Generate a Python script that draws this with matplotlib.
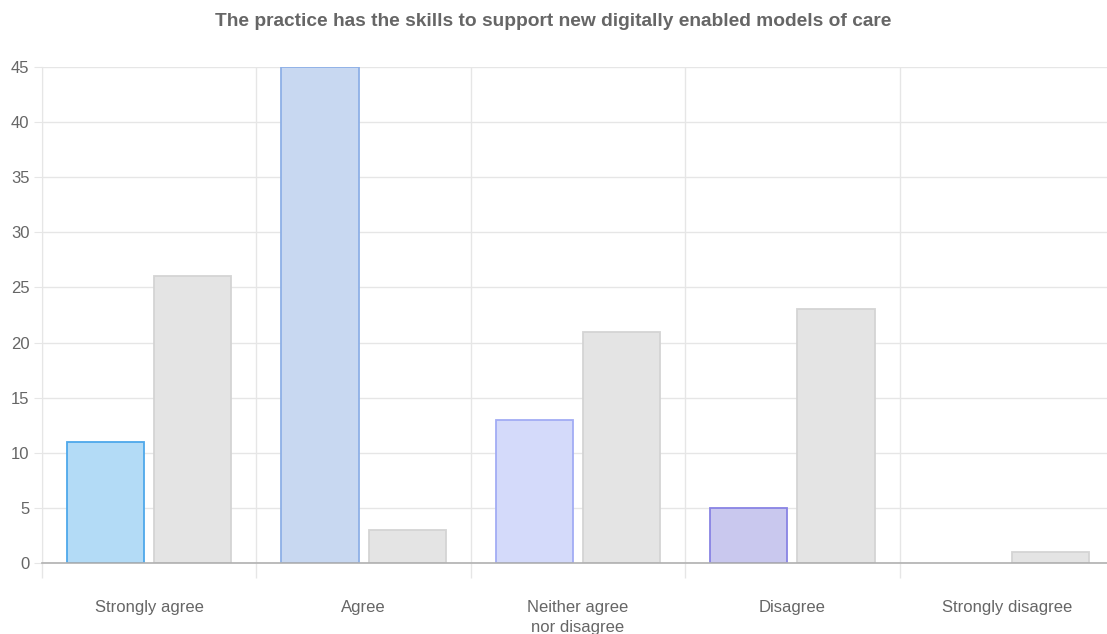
import matplotlib.pyplot as plt
import numpy as np

categories = ["Strongly agree", "Agree", "Neither agree\nnor disagree", "Disagree", "Strongly disagree"]
practice = [11, 45, 13, 5, 0]
comparison = [26, 3, 21, 23, 1]

# each practice bar gets its own shade
practice_fill = ["#b3dbf6", "#c8d8f1", "#d4dafa", "#c9c8ee", "#c9c8ee"]
practice_edge = ["#4ea8ea", "#8eb0e6", "#a2acf4", "#8883e4", "#8883e4"]
grey_fill = "#e4e4e4"
grey_edge = "#d4d4d4"
text_col = "#666666"
grid_col = "#e6e6e6"

plt.rcParams['font.family'] = ['Liberation Sans', 'DejaVu Sans']

fig = plt.figure(figsize=(11.07, 6.34), dpi=100)
ax = fig.add_axes([42 / 1107, 1 - 563 / 634, 1072 / 1107, (563 - 67) / 634])

x = np.arange(len(categories))
w = 0.36
off = 0.203
lw = [1.3 if v > 0 else 0 for v in practice]
ax.bar(x - off, practice, w, color=practice_fill, edgecolor=practice_edge, linewidth=lw, zorder=3)
ax.bar(x + off, comparison, w, color=grey_fill, edgecolor=grey_edge, linewidth=1.3, zorder=3)

ax.set_xlim(-0.5, len(categories) - 0.5)
ax.set_ylim(0, 45)
ax.set_yticks(np.arange(0, 46, 5))
ax.set_xticks(x)
ax.set_xticklabels(categories, linespacing=1.45)
ax.set_xticks(np.arange(-0.5, len(categories), 1), minor=True)

ax.grid(axis='y', color=grid_col, linewidth=1, zorder=0)
ax.grid(axis='x', which='minor', color=grid_col, linewidth=1, zorder=0)
ax.tick_params(axis='x', which='major', length=0, pad=26.5, labelsize=12, labelcolor=text_col)
ax.tick_params(axis='x', which='minor', length=11, color=grid_col, width=1)
ax.tick_params(axis='y', length=6, color=grid_col, pad=3, labelsize=12, labelcolor=text_col)

for s in ['top', 'right']:
    ax.spines[s].set_visible(False)
ax.spines['left'].set_color(grid_col)
ax.spines['bottom'].set_color("#b0b0b0")
ax.spines['bottom'].set_linewidth(1.2)
ax.spines['bottom'].set_zorder(4)

fig.text(0.5, 1 - 21 / 634, "The practice has the skills to support new digitally enabled models of care",
         ha='center', va='center', fontsize=13.8, fontweight='bold', color=text_col)

fig.savefig("out.png", dpi=100)
